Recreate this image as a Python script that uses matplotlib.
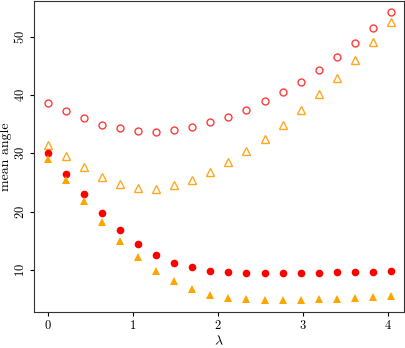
import matplotlib
matplotlib.use("Agg")
import matplotlib.pyplot as plt

plt.rcParams['font.family'] = 'serif'
plt.rcParams['font.serif'] = ['cmr10']
plt.rcParams['mathtext.fontset'] = 'cm'
plt.rcParams['axes.formatter.use_mathtext'] = True

lam = [0.0, 0.2125, 0.425, 0.6375, 0.85, 1.0625, 1.275, 1.4875, 1.7, 1.9125,
       2.125, 2.3375, 2.55, 2.7625, 2.975, 3.1875, 3.4, 3.6125, 3.825, 4.0375]

red_open = [38.6, 37.3, 36.0, 34.9, 34.3, 33.9, 33.7, 34.0, 34.5, 35.3,
            36.3, 37.5, 38.9, 40.5, 42.3, 44.3, 46.5, 48.9, 51.4, 54.2]
orange_open = [31.5, 29.5, 27.6, 25.9, 24.7, 24.0, 23.9, 24.5, 25.5, 26.8,
               28.5, 30.4, 32.5, 34.9, 37.4, 40.1, 42.9, 46.0, 49.1, 52.5]
red_filled = [30.0, 26.5, 23.0, 19.8, 16.8, 14.5, 12.6, 11.3, 10.5, 9.9,
              9.7, 9.5, 9.5, 9.5, 9.5, 9.5, 9.6, 9.7, 9.7, 9.8]
orange_filled = [29.1, 25.5, 21.8, 18.2, 15.0, 12.2, 9.9, 8.1, 6.7, 5.8,
                 5.3, 5.0, 4.9, 4.9, 4.9, 5.0, 5.1, 5.3, 5.4, 5.5]

fig, ax = plt.subplots(figsize=(4.05, 3.48), dpi=100)
fig.subplots_adjust(left=0.085, right=0.998, bottom=0.103, top=0.997)

ax.plot(lam, red_open, 'o', mfc='none', mec='#ff3b3b', ms=5, mew=1.0)
ax.plot(lam, orange_open, '^', mfc='none', mec='#ffa820', ms=6, mew=1.0)
ax.plot(lam, red_filled, 'o', color='#ff0000', ms=5.5, mew=0)
ax.plot(lam, orange_filled, '^', color='#ffa500', ms=6, mew=0)

ax.set_xlim(-0.16, 4.195)
ax.set_ylim(2.8, 56.1)
ax.set_xticks([0, 1, 2, 3, 4])
ax.set_yticks([10, 20, 30, 40, 50])
ax.tick_params(axis='y', labelrotation=90, labelsize=9, length=3, pad=2)
ax.tick_params(axis='x', labelsize=9, length=3, pad=2)
for t in ax.get_yticklabels():
    t.set_va('center')
ax.set_xlabel(r'$\lambda$', fontsize=10, labelpad=2)
ax.set_ylabel('mean angle', fontsize=10, labelpad=1)
for s in ax.spines.values():
    s.set_color('#333333')

fig.savefig('out.png', dpi=100)
